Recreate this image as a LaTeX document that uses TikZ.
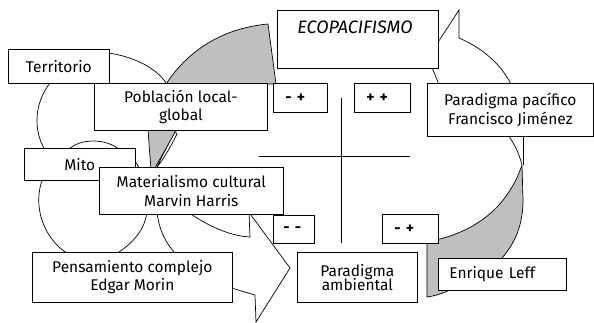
\documentclass[tikz,border=0pt]{standalone}
\usepackage{fontspec}
\setmainfont{Fira Sans}
\usepackage{tikz}

\begin{document}
\begin{tikzpicture}[x=1pt,y=-1pt,line width=0.7pt,
  font=\fontsize{15.5}{18.5}\selectfont,
  box/.style={draw,fill=white,anchor=north west,inner sep=0pt,align=center},
  sign/.style={box,font=\fontsize{15.5}{18.5}\selectfont\bfseries,align=left,inner xsep=12pt},
  shade/.style={fill=gray!50}]
  \useasboundingbox (0,0) rectangle (594,323);
  % circles on the left
  \draw (100,52) .. controls (135,55) and (158,70) .. (166,83);
  \draw (50,83) .. controls (33,105) and (34,132) .. (45,150);
  \draw (68,150) .. controls (80,138) and (106,138) .. (120,150);
  \draw (130,158) .. controls (134,160) and (137,163) .. (139,168);
  \draw (43,178) .. controls (32,205) and (43,238) .. (68,254);
  \draw (116,254) .. controls (135,242) and (145,228) .. (147,212);
  \draw (157,212) .. controls (159,230) and (166,244) .. (176,254);
  % grey arrow under Poblacion
  \filldraw[shade] (148,128) .. controls (149,145) and (150,158) .. (151,168) -- (155,168)
    .. controls (162,155) and (170,142) .. (178,128) -- cycle;
  \filldraw[fill=white] (175,132) .. controls (168,145) and (162,156) .. (157,167)
    .. controls (165,157) and (171,146) .. (177,134) -- cycle;
  % grey arrow on top
  \filldraw[shade] (166,84) .. controls (190,48) and (225,28) .. (268,24) -- (276,84) -- cycle;
  % white arrow top right
  \draw (433,50) -- (459,10) -- (459,38) .. controls (482,48) and (500,63) .. (511,84);
  \draw (429,60) .. controls (433,70) and (436,77) .. (439,85);
  % grey arrow on the right
  \filldraw[shade] (522,165) -- (523,200) .. controls (523,225) and (515,243) .. (502,258)
    -- (452,289) .. controls (442,294) and (434,296) .. (427,297) -- (427,240) -- (436,240)
    .. controls (470,232) and (506,212) .. (522,165);
  \draw (523,130) -- (523,165);
  \draw (506,132) .. controls (514,143) and (519,153) .. (522,165);
  % white arrow at the bottom
  \draw (248,211) -- (290,268) -- (256,322) -- (255,295) -- (228,287);
  \draw (185,210) .. controls (210,228) and (232,236) .. (250,237) -- (249,212);
  % cross
  \draw (259,156) -- (410,156);
  \draw (341,98) -- (341,243);
  % boxes
  \node[box,minimum width=101,minimum height=34] (terr) at (8,49) {Territorio};
  \node[box,minimum width=173,minimum height=47] (pobl) at (94,83) {Población local-\\global};
  \node[box,text width=121,inner xsep=20pt,align=left,text height=23pt,text depth=35pt,
    font=\fontsize{18}{20}\selectfont] (eco) at (277,10) {\textit{ECOPACIFISMO}};
  \node[sign,text width=30,minimum height=29] (mp) at (273,83) {- +};
  \node[sign,text width=32,minimum height=29] (pp) at (354,83) {+ +};
  \node[box,minimum width=166,minimum height=53] (pacif) at (427,83) {Paradigma pacífico\\Francisco Jiménez};
  \node[box,minimum width=111,minimum height=32] (mito) at (24,148) {Mito};
  \node[box,minimum width=184,minimum height=47] (mater) at (99,167) {Materialismo cultural\\Marvin Harris};
  \node[sign,text width=21,inner xsep=10pt,minimum height=28] (mm) at (273,215) {- -};
  \node[sign,text width=32,minimum height=29] (mp2) at (382,214) {- +};
  \node[box,minimum width=200,minimum height=50] (morin) at (32,252) {Pensamiento complejo\\Edgar Morin};
  \node[box,minimum width=120,minimum height=50] (amb) at (297,252) {Paradigma\\[-4pt]ambiental};
  \node[box,text width=106,inner xsep=11pt,align=left,minimum height=32] (leff) at (438,258) {Enrique Leff};
\end{tikzpicture}
\end{document}
